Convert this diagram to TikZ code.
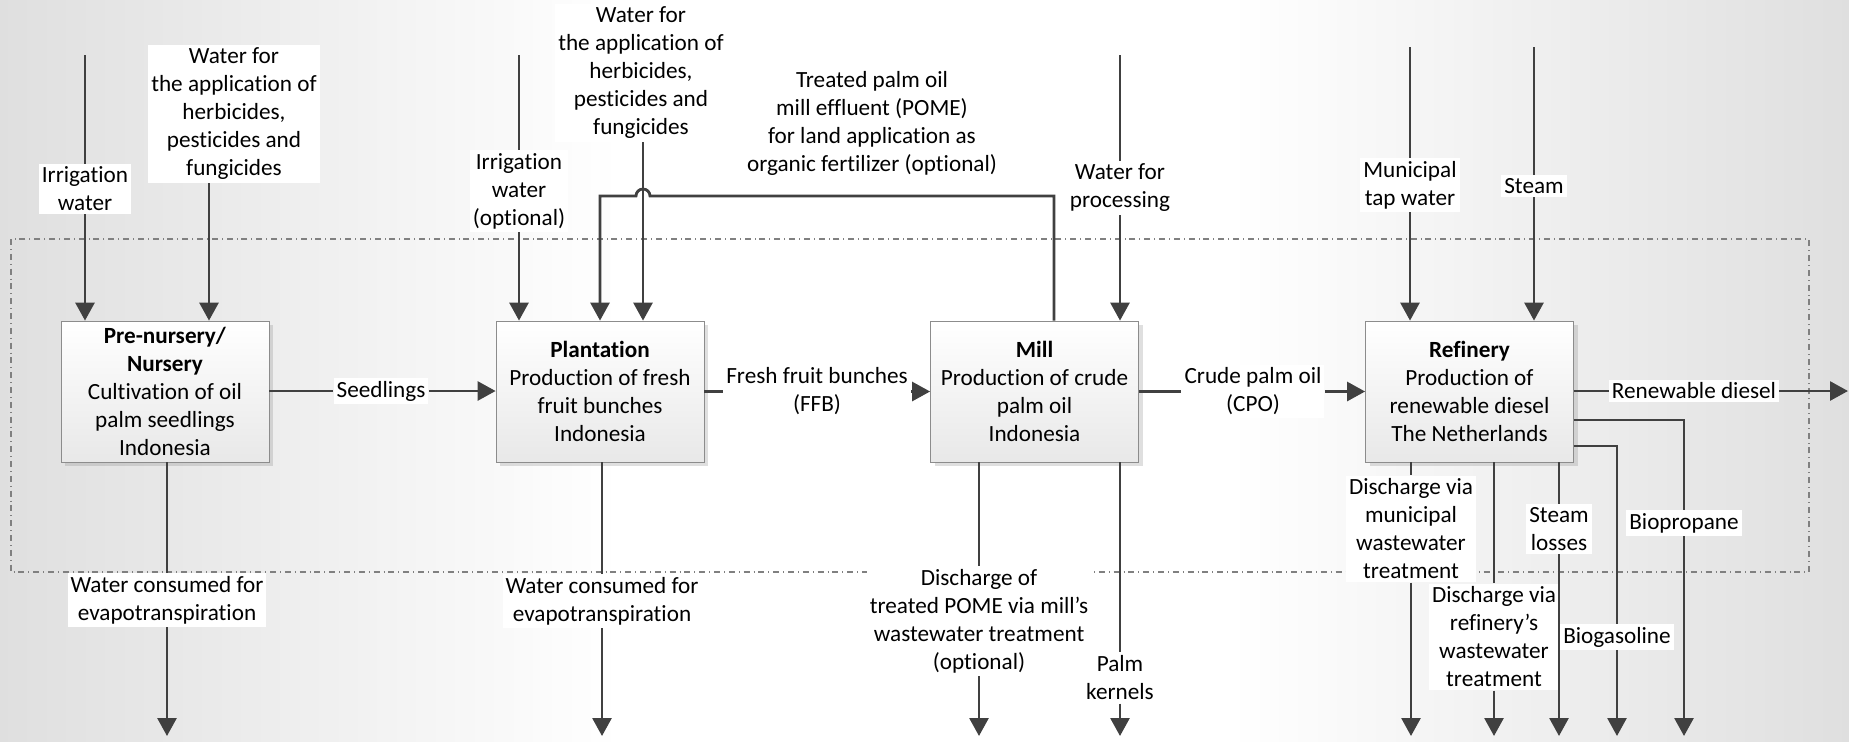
\documentclass[tikz,border=0pt]{standalone}
\usepackage{fontspec}
\setmainfont[Ligatures=NoCommon]{Carlito}
\usetikzlibrary{arrows.meta,shadows}
\begin{document}
\begin{tikzpicture}[x=0.5pt,y=-0.5pt,>={Triangle[length=9pt,width=9.5pt]},
	font=\fontsize{11.6}{14}\selectfont,
	proc/.style={draw=gray!90,top color=white,bottom color=gray!18,drop shadow={opacity=0.25,shadow xshift=2pt,shadow yshift=-2pt},minimum width=104pt,minimum height=70.5pt,inner sep=0pt,align=center},
	lbl/.style={fill=white,inner sep=1.5pt,align=center},
	flow/.style={draw=black!75,line width=1.4pt,->}]
	\useasboundingbox (0,0) rectangle (1849,741);
	% background
	\shade[left color=gray!25,right color=white] (0,0) rectangle (620,741);
	\fill[white] (619,0) rectangle (1231,741);
	\shade[left color=white,right color=gray!25] (1230,0) rectangle (1849,741);
	\draw[gray,dash dot,line width=0.6pt] (11,239) rectangle (1809,572);
	% process boxes
	\node[proc] (nur) at (165,391.5) {\textbf{Pre-nursery/}\\\textbf{Nursery}\\Cultivation of oil\\palm seedlings\\Indonesia};
	\node[proc] (plant) at (600,391.5) {\textbf{Plantation}\\Production of fresh\\fruit bunches\\Indonesia};
	\node[proc] (mill) at (1034.5,391.5) {\textbf{Mill}\\Production of crude\\palm oil\\Indonesia};
	\node[proc] (ref) at (1469.5,391.5) {\textbf{Refinery}\\Production of\\renewable diesel\\The Netherlands};
	% inputs
	\node[lbl] (irr1) at (85,189) {Irrigation\\water};
	\node[lbl] (herb1) at (234,114) {Water for\\the application of\\herbicides,\\pesticides and\\fungicides};
	\node[lbl] (irr2) at (519,191) {Irrigation\\water\\(optional)};
	\node[lbl] (herb2) at (641,73) {Water for\\the application of\\herbicides,\\pesticides and\\fungicides};
	\node[lbl] (pomelbl) at (872,123) {Treated palm oil\\mill effluent (POME)\\for land application as\\organic fertilizer (optional)};
	\node[lbl] (procw) at (1120,188) {Water for\\processing};
	\node[lbl] (tapw) at (1410,185) {Municipal\\tap water};
	\node[lbl] (steam) at (1534,186) {Steam};
	% main chain
	\node[lbl] (seedl) at (381,391) {Seedlings};
	\node[lbl] (ffb) at (817,391.5) {Fresh fruit bunches\\(FFB)};
	\node[lbl] (cpo) at (1253,391.5) {Crude palm oil\\(CPO)};
	\node[lbl] (rdiesel) at (1694,391) {Renewable diesel};
	% outputs
	\node[lbl] (evap1) at (167,600) {Water consumed for\\evapotranspiration};
	\node[lbl] (evap2) at (602,601) {Water consumed for\\evapotranspiration};
	\node[lbl] (pomedis) at (979,621) {Discharge of\\treated POME via mill’s\\wastewater treatment\\(optional)};
	\node[lbl] (kern) at (1120,678) {Palm\\kernels};
	\node[lbl] (dismun) at (1411,529) {Discharge via\\municipal\\wastewater\\treatment};
	\node[lbl] (disref) at (1494,637) {Discharge via\\refinery’s\\wastewater\\treatment};
	\node[lbl] (sloss) at (1559,529) {Steam\\losses};
	\node[lbl] (bgas) at (1617,637) {Biogasoline};
	\node[lbl] (bprop) at (1684,523) {Biopropane};
	% free ends
	\coordinate (irr1top) at (85,55);
	\coordinate (herb1x) at (209,0);
	\coordinate (herb2x) at (643,0);
	\coordinate (irr2top) at (519,55);
	\coordinate (procwtop) at (1120,55);
	\coordinate (tapwtop) at (1410,47);
	\coordinate (steamtop) at (1534,47);
	\coordinate (pomeup) at (1054,196);
	\coordinate (rdend) at (1848,391);
	\coordinate (bgk) at (1617,446);
	\coordinate (bpk) at (1684,420);
	\coordinate (evap1end) at (167,736);
	\coordinate (evap2end) at (602,736);
	\coordinate (pdend) at (979,736);
	\coordinate (kernend) at (1120,736);
	\coordinate (dmend) at (1411,736);
	\coordinate (drend) at (1494,736);
	\coordinate (slend) at (1559,736);
	\coordinate (bgend) at (1617,736);
	\coordinate (bpend) at (1684,736);
	% inflows
	\draw[flow] (irr1top) -- (irr1) -- (nur.north -| irr1top);
	\draw[flow] (herb1.south -| herb1x) -- (nur.north -| herb1x);
	\draw[flow] (irr2top) -- (irr2) -- (plant.north -| irr2top);
	\draw[flow] (herb2.south -| herb2x) -- (plant.north -| herb2x);
	\draw[flow] (mill.north -| pomeup) -- (pomeup) -- (650,196) arc[start angle=0,end angle=-180,radius=7] -- (plant.north |- pomeup) -- (plant.north);
	\draw[flow] (procwtop) -- (procw) -- (mill.north -| procwtop);
	\draw[flow] (tapwtop) -- (tapw) -- (ref.north -| tapwtop);
	\draw[flow] (steamtop) -- (steam) -- (ref.north -| steamtop);
	% chain
	\draw[flow] (nur.east |- seedl) -- (seedl) -- (plant.west |- seedl);
	\draw[flow] (plant.east |- ffb) -- (ffb) -- (mill.west |- ffb);
	\draw[flow] (mill.east |- cpo) -- (cpo) -- (ref.west |- cpo);
	\draw[flow] (ref.east |- rdiesel) -- (rdiesel) -- (rdend);
	% outflows
	\draw[flow] (nur.south -| evap1end) -- (evap1) -- (evap1end);
	\draw[flow] (plant.south -| evap2end) -- (evap2) -- (evap2end);
	\draw[flow] (mill.south -| pdend) -- (pomedis) -- (pdend);
	\draw[flow] (mill.south -| kernend) -- (kern) -- (kernend);
	\draw[flow] (ref.south -| dmend) -- (dismun) -- (dmend);
	\draw[flow] (ref.south -| drend) -- (disref) -- (drend);
	\draw[flow] (ref.south -| slend) -- (sloss) -- (slend);
	\draw[flow] (ref.east |- bgk) -- (bgk) -- (bgas) -- (bgend);
	\draw[flow] (ref.east |- bpk) -- (bpk) -- (bprop) -- (bpend);
\end{tikzpicture}
\end{document}
